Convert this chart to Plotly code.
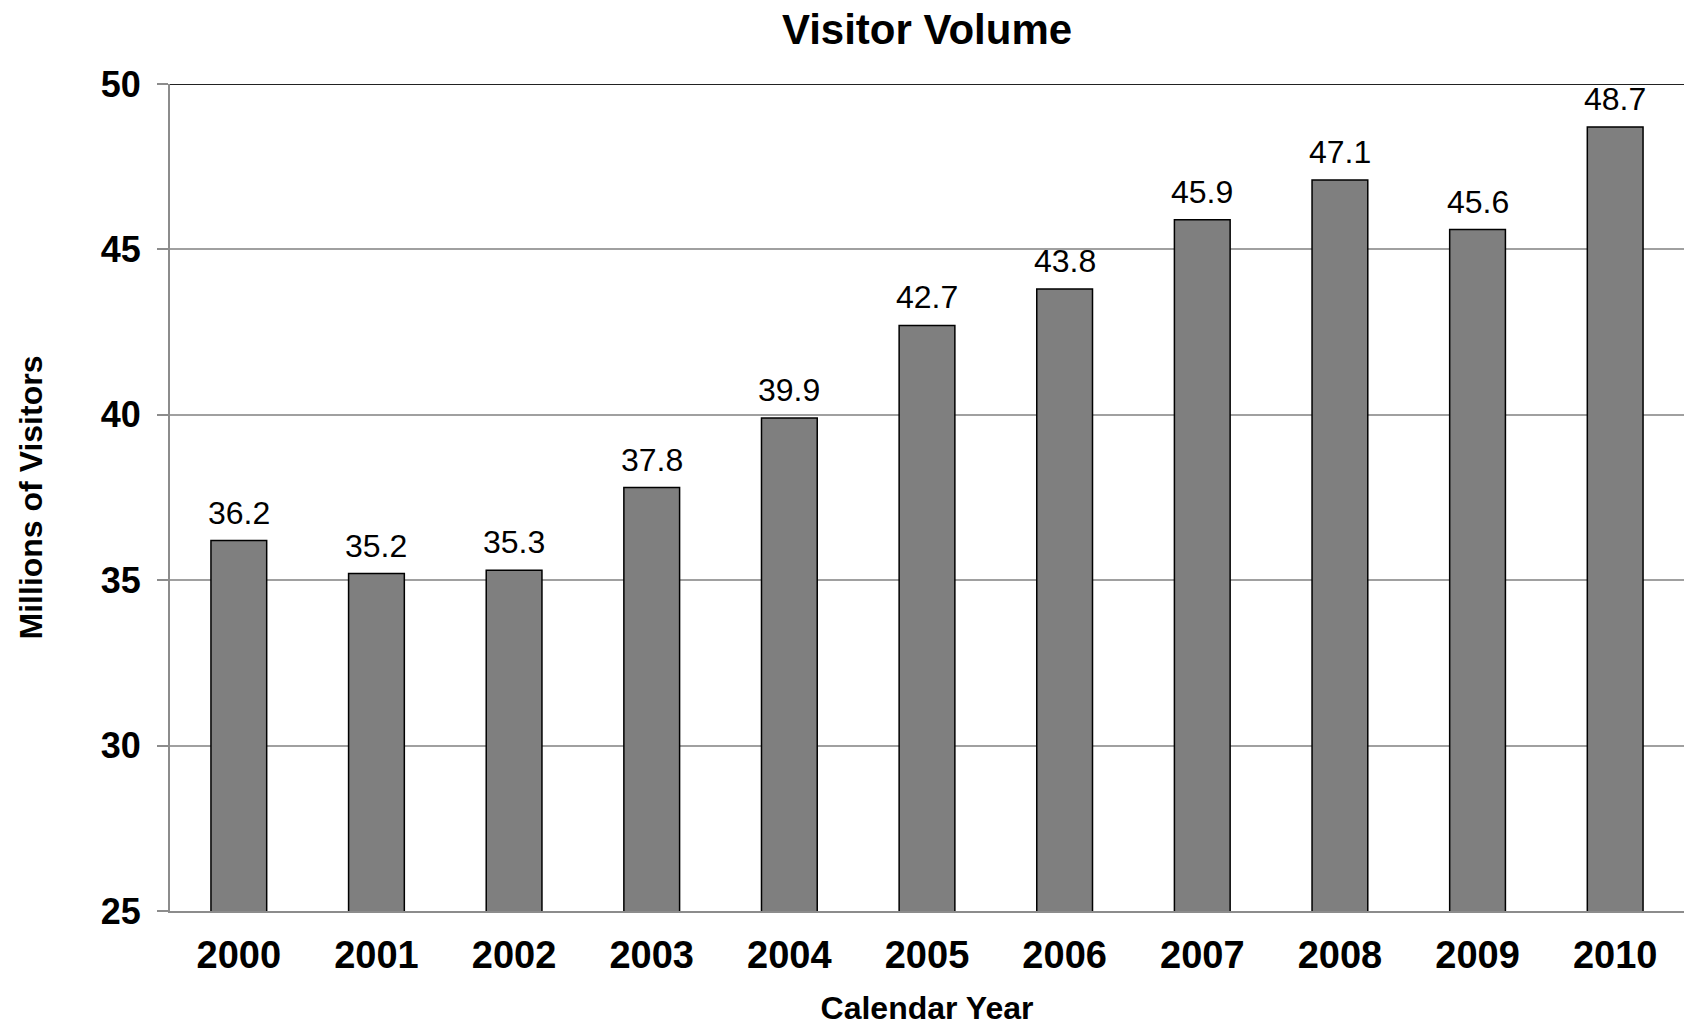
import plotly.graph_objects as go

# Annual visitor counts (millions)
years = ["2000", "2001", "2002", "2003", "2004", "2005",
         "2006", "2007", "2008", "2009", "2010"]
visitors = [36.2, 35.2, 35.3, 37.8, 39.9, 42.7, 43.8, 45.9, 47.1, 45.6, 48.7]

y_ticks = [25, 30, 35, 40, 45, 50]

FONT = "Liberation Sans"

fig = go.Figure()

fig.add_trace(go.Bar(
    x=years,
    y=visitors,
    width=0.405,
    marker=dict(color="#7f7f7f", line=dict(color="#000000", width=1.5)),
    hoverinfo="x+y",
    showlegend=False,
))

# value labels above each bar (category positions are 0..n-1)
for i, v in enumerate(visitors):
    fig.add_annotation(
        x=i, y=v, xref="x", yref="y", text=f"{v:.1f}",
        showarrow=False, yanchor="bottom", yshift=8,
        font=dict(family=FONT, size=32, color="#000000"),
    )

# dark frame line along the top of the plotting area
fig.add_shape(
    type="line", xref="paper", yref="y",
    x0=0, x1=1, y0=50, y1=50,
    line=dict(color="#222222", width=2),
)

fig.update_layout(
    width=1684,
    height=1026,
    margin=dict(l=170, r=0, t=84, b=115),
    paper_bgcolor="#ffffff",
    plot_bgcolor="#ffffff",
    title=dict(
        text="<b>Visitor Volume</b>",
        x=0.5, xref="paper", xanchor="center",
        y=1 - 29.5 / 1026, yref="container", yanchor="middle",
        font=dict(family=FONT, size=42, color="#000000"),
    ),
    xaxis=dict(
        type="category",
        range=[-0.5, 10.5],
        automargin=False,
        showgrid=False,
        showline=True,
        linecolor="#8c8c8c",
        linewidth=2,
        ticks="",
        ticklabelstandoff=9,
        tickfont=dict(family=FONT, size=38, color="#000000", weight="bold"),
        title=dict(
            text="<b>Calendar Year</b>",
            font=dict(family=FONT, size=32, color="#000000"),
            standoff=30,
        ),
    ),
    yaxis=dict(
        range=[25, 50],
        tickvals=y_ticks,
        automargin=False,
        showgrid=True,
        gridcolor="#a0a0a0",
        gridwidth=1.5,
        showline=True,
        linecolor="#8c8c8c",
        linewidth=2,
        ticks="outside",
        ticklen=11,
        tickcolor="#8c8c8c",
        tickwidth=1.5,
        ticklabelstandoff=9,
        zeroline=False,
        tickfont=dict(family=FONT, size=36, color="#000000", weight="bold"),
        title=dict(
            text="<b>Millions of Visitors</b>",
            font=dict(family=FONT, size=32, color="#000000"),
            standoff=49,
        ),
    ),
)

fig.write_html("out.html")
